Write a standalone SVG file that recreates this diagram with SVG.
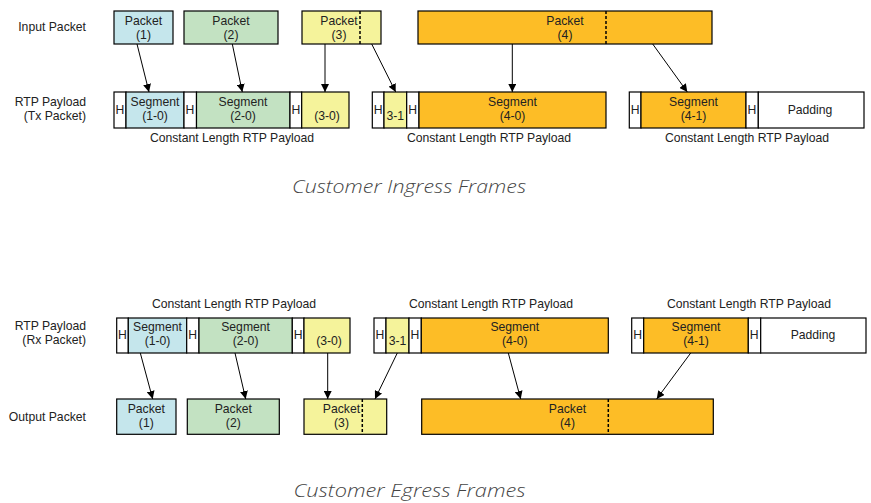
<svg xmlns="http://www.w3.org/2000/svg" width="871" height="503" viewBox="0 0 871 503">
<style>
text{font-family:"Liberation Sans",Arial,sans-serif;font-size:12.2px;fill:#222}
.c{text-anchor:middle}
.r{text-anchor:end}
.b{stroke:#000;stroke-width:1.2}
.w{fill:#fff}
.bl{fill:#C5E6EC}
.gr{fill:#C3E2C2}
.ye{fill:#F5F39B}
.or{fill:#FDBD26}
.d{stroke:#000;stroke-width:1.5;stroke-dasharray:3 2;fill:none}
.cap{font-family:"Open Sans","Lato",sans-serif;font-style:italic;font-weight:300;font-size:19px;fill:#444}
.a{stroke:#000;stroke-width:1;fill:none;marker-end:url(#ah)}
</style>
<defs>
<marker id="ah" viewBox="0 0 10 10" refX="10" refY="5" markerWidth="8" markerHeight="8" markerUnits="userSpaceOnUse" orient="auto">
<path d="M0,0 L10,5 L0,10 z" fill="#000"/>
</marker>
</defs>
<rect width="871" height="503" fill="#fff"/>

<g id="labels">
<text class="r" x="86" y="31">Input Packet</text>
<text class="r" x="86" y="106">RTP Payload</text>
<text class="r" x="86" y="120">(Tx Packet)</text>
<text class="c" x="232" y="142">Constant Length RTP Payload</text>
<text class="c" x="489" y="142">Constant Length RTP Payload</text>
<text class="c" x="747" y="142">Constant Length RTP Payload</text>
<text class="cap" x="292" y="193" textLength="234" lengthAdjust="spacingAndGlyphs">Customer Ingress Frames</text>

<text class="c" x="234" y="308">Constant Length RTP Payload</text>
<text class="c" x="491" y="308">Constant Length RTP Payload</text>
<text class="c" x="749" y="308">Constant Length RTP Payload</text>
<text class="r" x="86" y="330">RTP Payload</text>
<text class="r" x="86" y="344">(Rx Packet)</text>
<text class="r" x="86" y="421">Output Packet</text>
<text class="cap" x="293.5" y="497" style="font-size:18px" textLength="232" lengthAdjust="spacingAndGlyphs">Customer Egress Frames</text>
</g>

<!-- Input packets -->
<g id="in-p1"><rect class="b bl" x="114" y="11" width="59" height="33"/><text class="c" x="143.5" y="25">Packet</text><text class="c" x="143.5" y="39">(1)</text></g>
<g id="in-p2"><rect class="b gr" x="184" y="11" width="94" height="33"/><text class="c" x="231" y="25">Packet</text><text class="c" x="231" y="39">(2)</text></g>
<g id="in-p3"><rect class="b ye" x="302" y="11" width="79" height="33"/><line class="d" x1="360" y1="11" x2="360" y2="44"/><text class="c" x="339" y="25">Packet</text><text class="c" x="339" y="39">(3)</text></g>
<g id="in-p4"><rect class="b or" x="418" y="11" width="294" height="33"/><line class="d" x1="606" y1="11" x2="606" y2="44"/><text class="c" x="565" y="25">Packet</text><text class="c" x="565" y="39">(4)</text></g>

<!-- Tx payload group 1 -->
<g id="tx1">
<rect class="b w" x="114" y="92" width="12" height="36"/><text x="115.5" y="114">H</text>
<rect class="b bl" x="126" y="92" width="58" height="36"/><text class="c" x="155" y="106">Segment</text><text class="c" x="155" y="120">(1-0)</text>
<rect class="b w" x="184" y="92" width="12.5" height="36"/><text x="185.5" y="114">H</text>
<rect class="b gr" x="196.5" y="92" width="93.5" height="36"/><text class="c" x="243" y="106">Segment</text><text class="c" x="243" y="120">(2-0)</text>
<rect class="b w" x="290" y="92" width="11.7" height="36"/><text x="291.5" y="114">H</text>
<rect class="b ye" x="301.7" y="92" width="47.3" height="36"/><text class="c" x="327" y="120">(3-0)</text>
</g>
<g id="tx2">
<rect class="b w" x="372.3" y="92" width="11.7" height="36"/><text x="373.8" y="114">H</text>
<rect class="b ye" x="384" y="92" width="22.7" height="36"/><text class="c" x="395.3" y="120">3-1</text>
<rect class="b w" x="406.7" y="92" width="12.3" height="36"/><text x="408.2" y="114">H</text>
<rect class="b or" x="419" y="92" width="187" height="36"/><text class="c" x="512.5" y="106">Segment</text><text class="c" x="512.5" y="120">(4-0)</text>
</g>
<g id="tx3">
<rect class="b w" x="629.3" y="92" width="11.7" height="36"/><text x="630.8" y="114">H</text>
<rect class="b or" x="641" y="92" width="105" height="36"/><text class="c" x="693.5" y="106">Segment</text><text class="c" x="693.5" y="120">(4-1)</text>
<rect class="b w" x="746" y="92" width="12.3" height="36"/><text x="747.5" y="114">H</text>
<rect class="b w" x="758.3" y="92" width="105.7" height="36"/><text class="c" x="810" y="114">Padding</text>
</g>

<!-- Rx payload -->
<g id="rx1">
<rect class="b w" x="116.7" y="318" width="11.6" height="35"/><text x="118" y="339">H</text>
<rect class="b bl" x="128.3" y="318" width="58.4" height="35"/><text class="c" x="157.5" y="331">Segment</text><text class="c" x="157.5" y="345">(1-0)</text>
<rect class="b w" x="186.7" y="318" width="12.3" height="35"/><text x="188.2" y="339">H</text>
<rect class="b gr" x="199" y="318" width="93.3" height="35"/><text class="c" x="245.6" y="331">Segment</text><text class="c" x="245.6" y="345">(2-0)</text>
<rect class="b w" x="292.3" y="318" width="11.7" height="35"/><text x="293.8" y="339">H</text>
<rect class="b ye" x="304" y="318" width="46" height="35"/><text class="c" x="329" y="345">(3-0)</text>
</g>
<g id="rx2">
<rect class="b w" x="374" y="318" width="12" height="35"/><text x="375.5" y="339">H</text>
<rect class="b ye" x="386" y="318" width="23" height="35"/><text class="c" x="397.5" y="345">3-1</text>
<rect class="b w" x="409" y="318" width="12.3" height="35"/><text x="410.5" y="339">H</text>
<rect class="b or" x="421.3" y="318" width="187" height="35"/><text class="c" x="514.8" y="331">Segment</text><text class="c" x="514.8" y="345">(4-0)</text>
</g>
<g id="rx3">
<rect class="b w" x="631.7" y="318" width="12" height="35"/><text x="633.2" y="339">H</text>
<rect class="b or" x="643.7" y="318" width="104.6" height="35"/><text class="c" x="696" y="331">Segment</text><text class="c" x="696" y="345">(4-1)</text>
<rect class="b w" x="748.3" y="318" width="12.4" height="35"/><text x="749.8" y="339">H</text>
<rect class="b w" x="760.7" y="318" width="105.3" height="35"/><text class="c" x="813" y="339">Padding</text>
</g>

<!-- Output packets -->
<g id="out-p1"><rect class="b bl" x="116.7" y="399" width="59.3" height="35.3"/><text class="c" x="146.3" y="413">Packet</text><text class="c" x="146.3" y="427">(1)</text></g>
<g id="out-p2"><rect class="b gr" x="187.3" y="399" width="92" height="35.3"/><text class="c" x="233.3" y="413">Packet</text><text class="c" x="233.3" y="427">(2)</text></g>
<g id="out-p3"><rect class="b ye" x="304" y="399" width="82.7" height="35.3"/><line class="d" x1="362.3" y1="399" x2="362.3" y2="434.3"/><text class="c" x="341.5" y="413">Packet</text><text class="c" x="341.5" y="427">(3)</text></g>
<g id="out-p4"><rect class="b or" x="421.7" y="399" width="291.6" height="35.3"/><line class="d" x1="608.3" y1="399" x2="608.3" y2="434.3"/><text class="c" x="567.5" y="413">Packet</text><text class="c" x="567.5" y="427">(4)</text></g>

<g id="connectors">
<line class="a" x1="137" y1="44" x2="149" y2="92"/>
<line class="a" x1="232.3" y1="44" x2="242.3" y2="92"/>
<line class="a" x1="325" y1="44" x2="325" y2="92"/>
<line class="a" x1="371.7" y1="44" x2="395.7" y2="92"/>
<line class="a" x1="512.3" y1="44" x2="512.3" y2="92"/>
<line class="a" x1="652.7" y1="44" x2="687.3" y2="92"/>
<line class="a" x1="140.3" y1="353" x2="152.7" y2="399"/>
<line class="a" x1="235" y1="353" x2="245.7" y2="399"/>
<line class="a" x1="327.7" y1="353" x2="327.7" y2="399"/>
<line class="a" x1="397.3" y1="353" x2="375" y2="399"/>
<line class="a" x1="508.3" y1="353" x2="520.7" y2="399"/>
<line class="a" x1="690.7" y1="353" x2="656.7" y2="399"/>
</g>
</svg>
